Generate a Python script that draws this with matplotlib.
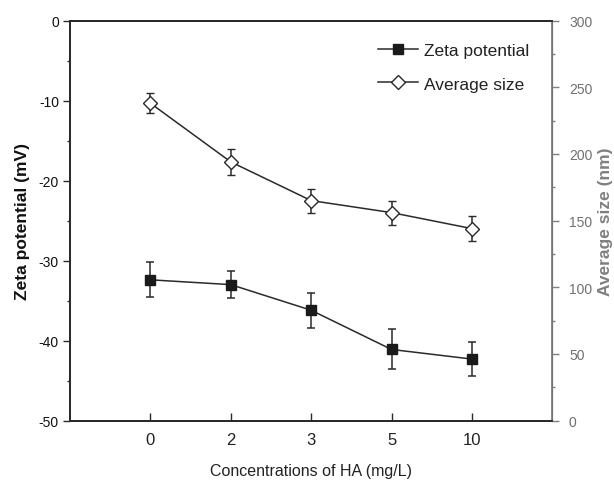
import matplotlib.pyplot as plt
from matplotlib.ticker import MultipleLocator
from matplotlib.lines import Line2D

# data
ha_conc = ['0', '2', '3', '5', '10']
zeta = [-32.4, -33.0, -36.2, -41.1, -42.3]
zeta_err = [2.2, 1.7, 2.2, 2.5, 2.1]
size = [238, 194, 165, 156, 144]
size_err = [7.7, 9.6, 9.0, 9.0, 9.5]

plt.rcParams['font.family'] = ['Liberation Sans', 'DejaVu Sans']
plt.rcParams['axes.unicode_minus'] = False

dark = '#2a2a2a'
grey = '#808080'

fig = plt.figure(figsize=(6.14, 4.81), dpi=100)
ax = fig.add_axes([0.114, 0.1233, 0.7855, 0.832])
ax2 = ax.twinx()

x = list(range(len(ha_conc)))

sq = dict(color=dark, marker='s', ms=7.5, mfc='#1a1a1a', mec='#1a1a1a', lw=1.1)
dm = dict(color=dark, marker='D', ms=7, mfc='white', mec=dark, mew=1.0, lw=1.1)

ax.errorbar(x, zeta, yerr=zeta_err, elinewidth=1.1, capsize=2.6, capthick=1.1, **sq)
ax2.errorbar(x, size, yerr=size_err, elinewidth=1.1, capsize=2.6, capthick=1.1, **dm)

ax.set_xlim(-1, 5)
ax.set_ylim(-50, 0)
ax2.set_ylim(0, 300)

ax.set_xticks(x)
ax.set_xticklabels(ha_conc, fontsize=12, color='#222222')
ax.tick_params(axis='x', direction='in', length=6, width=1, color=dark, pad=8)

ax.yaxis.set_major_locator(MultipleLocator(10))
ax.yaxis.set_minor_locator(MultipleLocator(5))
ax.tick_params(axis='y', which='major', direction='out', length=5, width=1,
               color=dark, labelsize=10, labelcolor='#111111', pad=3)
ax.tick_params(axis='y', which='minor', direction='out', length=2.5, width=1, color=dark)

ax2.yaxis.set_major_locator(MultipleLocator(50))
ax2.yaxis.set_minor_locator(MultipleLocator(25))
ax2.tick_params(axis='y', which='major', direction='out', length=5, width=1,
                color=grey, labelsize=10, labelcolor='#707070', pad=7)
ax2.tick_params(axis='y', which='minor', direction='out', length=2.5, width=1, color=grey)

for s in ['left', 'bottom', 'top']:
    ax.spines[s].set_color(dark)
    ax.spines[s].set_linewidth(1.3)
    ax2.spines[s].set_color(dark)
    ax2.spines[s].set_linewidth(1.3)
ax2.spines['right'].set_color(grey)
ax2.spines['right'].set_linewidth(1.3)

ax.set_xlabel('Concentrations of HA (mg/L)', fontsize=11.5, color='#222222', labelpad=12)
ax.set_ylabel('Zeta potential (mV)', fontsize=12.5, fontweight='bold', color='#111111', labelpad=6)
ax2.set_ylabel('Average size (nm)', fontsize=12.5, fontweight='bold', color=grey, labelpad=4)

handles = [Line2D([], [], **sq), Line2D([], [], **dm)]
leg = ax2.legend(handles, ['Zeta potential', 'Average size'], loc='upper left',
                 bbox_to_anchor=(378 / 614, 1 - 44 / 481), bbox_transform=fig.transFigure,
                 frameon=False, fontsize=12.5, handlelength=2.3, handletextpad=0.35,
                 labelspacing=1.05, borderpad=0, borderaxespad=0)
for t in leg.get_texts():
    t.set_color('#222222')

fig.savefig('out.png', dpi=100)
